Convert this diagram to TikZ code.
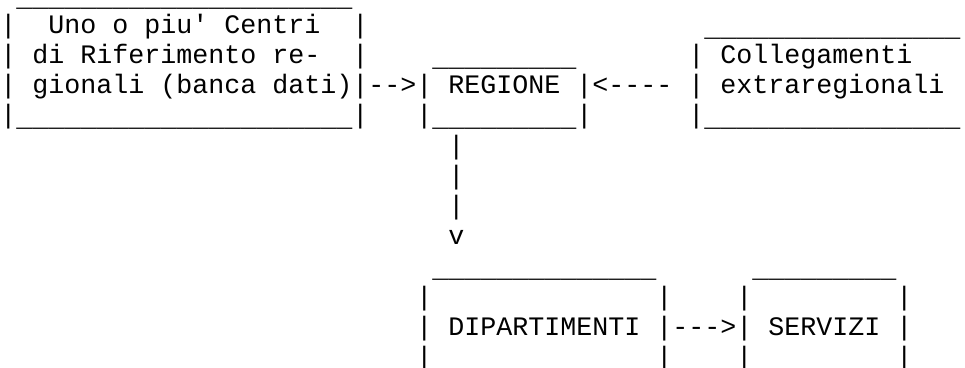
\documentclass[tikz,border=0pt]{standalone}
\usepackage{fontspec}
\usepackage{tikz}
\newfontfamily\asciifont{Liberation Mono}
\newcommand{\unders}[1]{\raisebox{-2.25pt}{\foreach \k in {1,...,#1}{\_}}}

\begin{document}
\begin{tikzpicture}[x=0.75pt,y=0.75pt,yscale=-1,xscale=1,
  txt/.style={anchor=base west,inner sep=0pt,font=\asciifont\fontsize{20}{24}\selectfont}]
\useasboundingbox (0,0) rectangle (965,368);
% Text Node
\draw (16,3) node [txt] (centritop) {\unders{21}};
% Text Node
\draw (0,33.2) node [txt] (centrileft1) {|};
% Text Node
\draw (48,33.2) node [txt] (centri1) {Uno o piu' Centri};
% Text Node
\draw (352,33.2) node [txt] (centriright1) {|};
% Text Node
\draw (704,33.2) node [txt] (colltop) {\unders{16}};
% Text Node
\draw (0,63.4) node [txt] (centrileft2) {|};
% Text Node
\draw (32,63.4) node [txt] (centri2) {di Riferimento re-};
% Text Node
\draw (352,63.4) node [txt] (centriright2) {|};
% Text Node
\draw (432,63.4) node [txt] (regionetop) {\unders{9}};
% Text Node
\draw (688,63.4) node [txt] (collleft1) {|};
% Text Node
\draw (720,63.4) node [txt] (coll1) {Collegamenti};
% Text Node
\draw (0,93.6) node [txt] (centrileft3) {|};
% Text Node
\draw (32,93.6) node [txt] (centri3) {gionali (banca dati)};
% Text Node
\draw (352,93.6) node [txt] (centriarrow) {|-->|};
% Text Node
\draw (448,93.6) node [txt] (regione) {REGIONE};
% Text Node
\draw (576,93.6) node [txt] (collarrow) {|<----};
% Text Node
\draw (688,93.6) node [txt] (collleft2) {|};
% Text Node
\draw (720,93.6) node [txt] (coll2) {extraregionali};
% Text Node
\draw (0,123.8) node [txt] (centrileft4) {|};
% Text Node
\draw (16,123.8) node [txt] (centribottom) {\unders{21}};
% Text Node
\draw (352,123.8) node [txt] (centriright4) {|};
% Text Node
\draw (416,123.8) node [txt] (regioneleft) {|};
% Text Node
\draw (432,123.8) node [txt] (regionebottom) {\unders{9}};
% Text Node
\draw (576,123.8) node [txt] (regioneright) {|};
% Text Node
\draw (688,123.8) node [txt] (collleft3) {|};
% Text Node
\draw (704,123.8) node [txt] (collbottom) {\unders{16}};
% Text Node
\draw (448,154) node [txt] (down1) {|};
% Text Node
\draw (448,184.2) node [txt] (down2) {|};
% Text Node
\draw (448,214.4) node [txt] (down3) {|};
% Text Node
\draw (448,244.6) node [txt] (downtip) {v};
% Text Node
\draw (432,274.8) node [txt] (diptop) {\unders{14}};
% Text Node
\draw (752,274.8) node [txt] (servtop) {\unders{9}};
% Text Node
\draw (416,305) node [txt] (dipleft1) {|};
% Text Node
\draw (656,305) node [txt] (dipright1) {|};
% Text Node
\draw (736,305) node [txt] (servleft1) {|};
% Text Node
\draw (896,305) node [txt] (servright1) {|};
% Text Node
\draw (416,335.2) node [txt] (dipleft2) {|};
% Text Node
\draw (448,335.2) node [txt] (dipartimenti) {DIPARTIMENTI};
% Text Node
\draw (656,335.2) node [txt] (diparrow) {|--->|};
% Text Node
\draw (768,335.2) node [txt] (servizi) {SERVIZI};
% Text Node
\draw (896,335.2) node [txt] (servright2) {|};
% Text Node
\draw (416,365.4) node [txt] (dipleft3) {|};
% Text Node
\draw (656,365.4) node [txt] (dipright3) {|};
% Text Node
\draw (736,365.4) node [txt] (servleft3) {|};
% Text Node
\draw (896,365.4) node [txt] (servright3) {|};
\end{tikzpicture}
\end{document}
